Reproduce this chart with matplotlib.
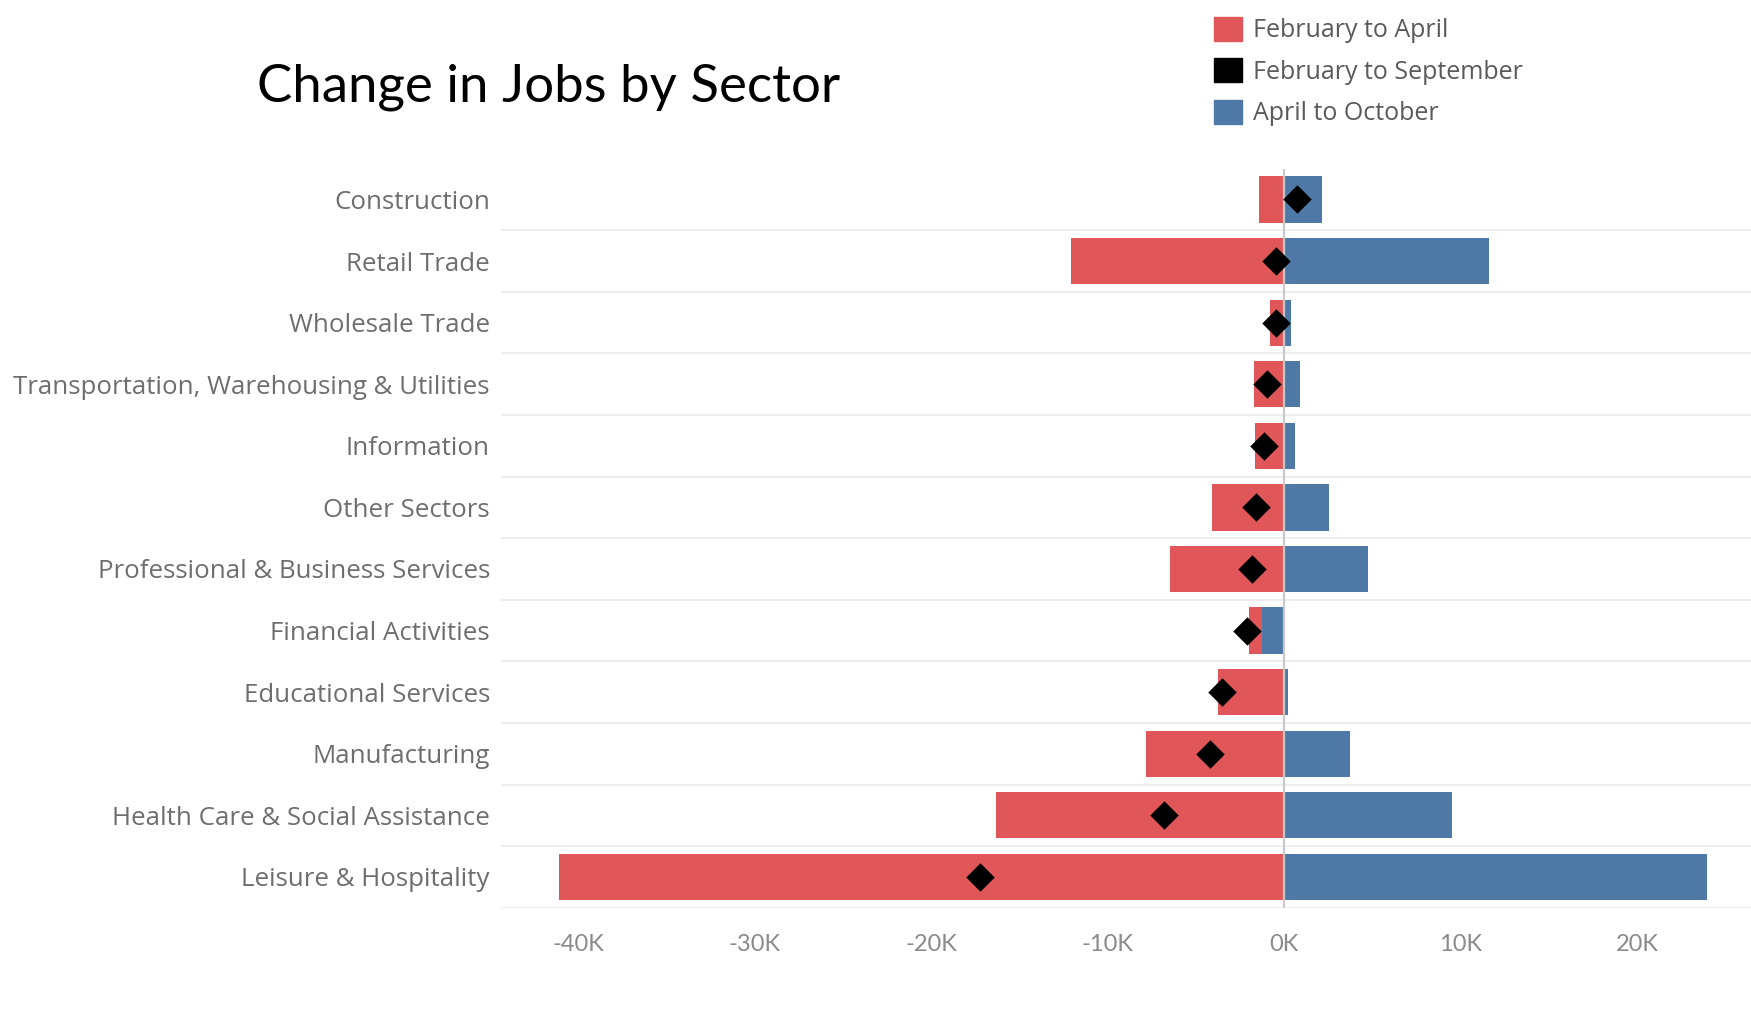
import matplotlib
matplotlib.use("Agg")
import matplotlib.pyplot as plt
from matplotlib.patches import Patch
from matplotlib.ticker import FuncFormatter

plt.rcParams['font.family'] = ['Lato', 'DejaVu Sans']

sectors = [
    "Construction", "Retail Trade", "Wholesale Trade",
    "Transportation, Warehousing & Utilities", "Information", "Other Sectors",
    "Professional & Business Services", "Financial Activities",
    "Educational Services", "Manufacturing",
    "Health Care & Social Assistance", "Leisure & Hospitality",
]
# thousands of jobs
feb_to_apr = [-1.42, -12.1, -0.79, -1.73, -1.64, -4.10, -6.46, -1.98, -3.78, -7.81, -16.34, -41.14]
apr_to_oct = [2.14, 11.62, 0.40, 0.87, 0.62, 2.53, 4.76, -1.26, 0.23, 3.72, 9.49, 23.98]
feb_to_sep = [0.70, -0.49, -0.49, -0.96, -1.13, -1.60, -1.85, -2.10, -3.51, -4.21, -6.84, -17.27]
xticks = [-40, -30, -20, -10, 0, 10, 20]
legend_labels = ["February to April", "February to September", "April to October"]

RED = "#E15759"
BLUE = "#4E79A7"
LABEL_FONT = ['Open Sans', 'DejaVu Sans']

W, H = 1751, 1030
fig = plt.figure(figsize=(W / 100, H / 100), dpi=100)
top_px, bot_px = 168.7, 907.7
ax = fig.add_axes([501 / W, 1 - bot_px / H, 1 - 501 / W, (bot_px - top_px) / H])

y = list(range(len(sectors)))
ax.barh(y, feb_to_apr, height=0.75, color=RED, zorder=2)
ax.barh(y, apr_to_oct, height=0.75, color=BLUE, zorder=2)
ax.axvline(0, color="#c9c9c9", lw=1.6, zorder=3)
ax.scatter(feb_to_sep, y, marker="D", s=14.5 ** 2, color="black", zorder=4, linewidths=0)

for i in range(len(sectors)):
    ax.axhline(i + 0.5, color="#eeeeee", lw=1.6, zorder=1)

ax.set_ylim(len(sectors) - 0.5, -0.5)
ax.set_xlim(-44.4, 26.46)
ax.set_yticks(y)
ax.set_yticklabels(sectors, fontsize=18.6, color="#6e6e6e", family=LABEL_FONT)
ax.set_xticks(xticks)
ax.xaxis.set_major_formatter(FuncFormatter(lambda v, p: f"{int(v)}K"))
ax.tick_params(axis="x", length=0, pad=18.6, labelsize=17, labelcolor="#8a8a8a")
ax.tick_params(axis="y", length=0, pad=8)
for s in ax.spines.values():
    s.set_visible(False)

fig.text(257 / W, 1 - 87.5 / H, "Change in Jobs by Sector", fontsize=38, color="black",
         ha="left", va="center")

handles = [Patch(color=RED), Patch(color="black"), Patch(color=BLUE)]
fig.legend(handles, legend_labels, loc="upper left",
           bbox_to_anchor=(1214 / W, 1 - 16.5 / H), frameon=False,
           prop={'family': LABEL_FONT, 'size': 18},
           handlelength=1.12, handleheight=1.12, handletextpad=0.45,
           labelspacing=0.6, borderpad=0, borderaxespad=0, labelcolor="#5a5a5a")

fig.savefig("out.png", dpi=100)
